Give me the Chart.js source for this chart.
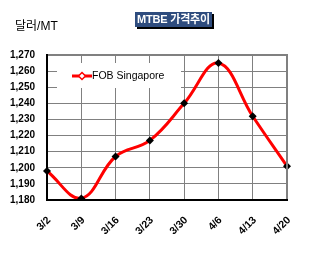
<!DOCTYPE html>
<html>
<head>
<meta charset="utf-8">
<script src="https://cdn.jsdelivr.net/npm/chart.js@4.4.1/dist/chart.umd.min.js"></script>
<style>
  html, body { margin: 0; padding: 0; background: #fff; }
  #wrap { position: relative; width: 311px; height: 254px; }
  #unit { position: absolute; left: 15px; top: 16px; font: 12px "Liberation Sans", "Noto Sans CJK KR", sans-serif; color: #000; }
  #title { position: absolute; left: 135px; top: 12px; width: 77px; height: 15px; background: #2E4C7E;
           box-shadow: 2px 2px 0 #000; color: #fff; font: bold 11px "Liberation Sans", "Noto Sans CJK KR", sans-serif;
           line-height: 15px; text-align: center; white-space: nowrap; letter-spacing: -0.2px; }
</style>
</head>
<body>
<div id="wrap">
  <canvas id="c" width="311" height="254"></canvas>
  <div id="unit">달러/MT</div>
  <div id="title">MTBE 가격추이</div>
</div>
<script>
const categories = ["3/2", "3/9", "3/16", "3/23", "3/30", "4/6", "4/13", "4/20"];
const fobSingapore = [1198, 1181, 1207, 1217, 1240, 1265, 1232, 1201];
const seriesName = "FOB Singapore";
const yMin = 1180, yMax = 1270, yStep = 10;

const legendPlugin = {
  id: 'insideLegend',
  beforeDatasetsDraw(chart) {
    const ctx = chart.ctx, a = chart.chartArea;
    const x0 = a.left + 10, y0 = a.top + 8;
    ctx.save();
    ctx.fillStyle = '#fff';
    ctx.fillRect(x0, y0, 124, 25);
    const ly = y0 + 13;
    ctx.strokeStyle = '#ff0000';
    ctx.lineWidth = 3;
    ctx.beginPath(); ctx.moveTo(x0 + 15, ly); ctx.lineTo(x0 + 35, ly); ctx.stroke();
    const cx = x0 + 25;
    ctx.fillStyle = '#fff';
    ctx.lineWidth = 1.5;
    ctx.beginPath(); ctx.moveTo(cx, ly - 3.5); ctx.lineTo(cx + 3.5, ly); ctx.lineTo(cx, ly + 3.5); ctx.lineTo(cx - 3.5, ly); ctx.closePath();
    ctx.fill(); ctx.stroke();
    ctx.fillStyle = '#000';
    ctx.font = '10.5px "Liberation Sans", sans-serif';
    ctx.textBaseline = 'middle';
    ctx.textAlign = 'left';
    ctx.fillText(seriesName, x0 + 35, ly + 0.5);
    ctx.restore();
  },
  afterDraw(chart) {
    const ctx = chart.ctx, a = chart.chartArea;
    ctx.save();
    ctx.strokeStyle = '#808080';
    ctx.lineWidth = 2;
    ctx.beginPath();
    ctx.moveTo(a.left, a.top); ctx.lineTo(a.right, a.top); ctx.lineTo(a.right, a.bottom);
    ctx.stroke();
    ctx.strokeStyle = '#000';
    ctx.beginPath();
    ctx.moveTo(a.left, a.top - 1); ctx.lineTo(a.left, a.bottom); ctx.lineTo(a.right + 1, a.bottom);
    ctx.stroke();
    ctx.restore();
  }
};

new Chart(document.getElementById('c'), {
  type: 'line',
  data: {
    labels: categories,
    datasets: [{
      label: seriesName,
      data: fobSingapore,
      borderColor: '#ff0000',
      borderWidth: 3,
      tension: 0.4,
      pointStyle: 'rectRot',
      pointRadius: 4,
      pointBackgroundColor: '#000',
      pointBorderColor: '#000',
      pointBorderWidth: 0,
      fill: false
    }]
  },
  options: {
    responsive: false,
    animation: false,
    devicePixelRatio: 1,
    layout: { padding: { left: 0, top: 55, right: 24, bottom: 0 } },
    plugins: { legend: { display: false }, tooltip: { enabled: false }, title: { display: false } },
    scales: {
      x: {
        offset: false,
        grid: { color: '#808080', lineWidth: 1, drawTicks: false },
        border: { display: false },
        ticks: {
          color: '#000',
          font: { family: '"Liberation Sans", sans-serif', size: 10.5, weight: 'bold' },
          maxRotation: 45, minRotation: 45, padding: 14, labelOffset: 2, autoSkip: false
        },
        afterFit(s) { s.height = 54; }
      },
      y: {
        min: yMin, max: yMax,
        grid: { color: '#808080', lineWidth: 1, drawTicks: false },
        border: { display: false },
        ticks: {
          stepSize: yStep,
          color: '#000',
          padding: 12,
          font: { family: '"Liberation Sans", sans-serif', size: 10, weight: 'bold' },
          callback: v => v.toLocaleString('en-US')
        },
        afterFit(s) { s.width = 47; }
      }
    }
  },
  plugins: [legendPlugin]
});
</script>
</body>
</html>
